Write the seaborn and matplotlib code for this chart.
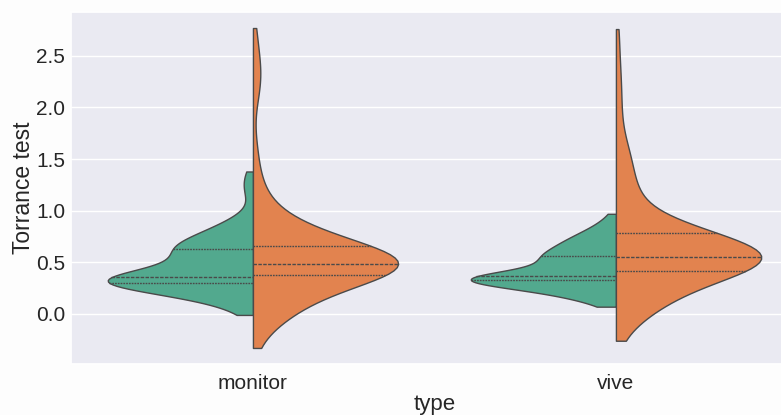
import numpy as np
import pandas as pd
import seaborn as sns
import matplotlib
matplotlib.use("Agg")
import matplotlib.pyplot as plt

types = ["monitor", "vive"]
groups = ["g1", "g2"]
colors = ["#52a98e", "#e2834f"]

monitor_g1_vals = [-0.01, 0.05, 0.10, 0.15, 0.20, 0.25, 0.28, 0.30, 0.33, 0.35,
                   0.355, 0.40, 0.45, 0.50, 0.55, 0.60, 0.62, 0.63, 0.66, 0.70,
                   0.75, 0.80, 0.85, 0.90, 0.95, 1.15, 1.22, 1.30, 1.38]
monitor_g1_cnts = [1, 1, 2, 3, 5, 6, 6, 4, 14, 7,
                   2, 4, 4, 4, 4, 4, 3, 2, 4, 4,
                   4, 3, 2, 2, 1, 1, 1, 1, 1]

monitor_g2_vals = [-0.33, -0.20, -0.10, -0.05, 0.00, 0.05, 0.10, 0.15, 0.20, 0.25,
                   0.30, 0.35, 0.375, 0.40, 0.43, 0.45, 0.47, 0.48, 0.50, 0.55,
                   0.60, 0.63, 0.66, 0.70, 0.75, 0.80, 0.85, 0.90, 0.95, 1.00,
                   1.07, 1.15, 1.20, 1.25, 1.35, 1.50, 1.65, 2.05, 2.20, 2.28,
                   2.35, 2.45, 2.58, 2.77]
monitor_g2_cnts = [1, 1, 2, 2, 3, 3, 4, 4, 4, 5,
                   4, 4, 2, 8, 9, 9, 9, 2, 8, 10,
                   9, 8, 2, 5, 4, 4, 3, 3, 2, 2,
                   1, 1, 1, 1, 1, 1, 1, 1, 1, 1,
                   1, 1, 1, 1]

vive_g1_vals = [0.07, 0.12, 0.16, 0.20, 0.24, 0.27, 0.30, 0.328, 0.33, 0.34,
                0.35, 0.364, 0.38, 0.42, 0.46, 0.50, 0.53, 0.55, 0.563, 0.60,
                0.64, 0.68, 0.72, 0.76, 0.80, 0.85, 0.90, 0.97]
vive_g1_cnts = [1, 2, 3, 4, 5, 5, 4, 2, 8, 8,
                7, 2, 4, 4, 3, 4, 4, 4, 2, 4,
                4, 4, 3, 3, 2, 2, 1, 1]

vive_g2_vals = [-0.26, -0.15, -0.08, 0.00, 0.05, 0.10, 0.15, 0.20, 0.25, 0.30,
                0.35, 0.39, 0.418, 0.44, 0.47, 0.50, 0.53, 0.54, 0.553, 0.58,
                0.62, 0.66, 0.70, 0.75, 0.785, 0.80, 0.84, 0.89, 0.95, 1.02,
                1.08, 1.15, 1.22, 1.30, 1.40, 1.50, 1.60, 1.72, 1.85, 2.00,
                2.15, 2.30, 2.50, 2.76]
vive_g2_cnts = [1, 1, 2, 2, 3, 3, 4, 4, 4, 5,
                4, 4, 2, 7, 8, 8, 7, 5, 2, 7,
                8, 7, 7, 6, 2, 5, 4, 3, 2, 2,
                2, 2, 2, 2, 2, 2, 2, 1, 1, 1,
                1, 1, 1, 1]

frames = []
for t, g, vals, cnts in [("monitor", "g1", monitor_g1_vals, monitor_g1_cnts),
                         ("monitor", "g2", monitor_g2_vals, monitor_g2_cnts),
                         ("vive", "g1", vive_g1_vals, vive_g1_cnts),
                         ("vive", "g2", vive_g2_vals, vive_g2_cnts)]:
    obs = np.repeat(np.array(vals), np.array(cnts))
    frames.append(pd.DataFrame({"type": t, "group": g, "Torrance test": obs}))
df = pd.concat(frames, ignore_index=True)

sns.set_theme(style="darkgrid")
plt.rcParams["font.family"] = ["Liberation Sans", "DejaVu Sans"]

fig, ax = plt.subplots(figsize=(7.81, 4.15), dpi=100)
fig.patch.set_facecolor("#fdfdfd")
sns.violinplot(data=df, x="type", y="Torrance test", hue="group",
               order=types, hue_order=groups, split=True, inner="quartile",
               cut=0, density_norm="width", palette=colors, saturation=1,
               linewidth=1.0, linecolor="#4a4a4a", legend=False, ax=ax)
ax.set_yticks([0.0, 0.5, 1.0, 1.5, 2.0, 2.5])
ax.tick_params(axis="x", labelsize=15, length=0, pad=7)
ax.tick_params(axis="y", labelsize=15, length=0, pad=4.5)
ax.set_xlabel("type", fontsize=16, labelpad=1)
ax.set_ylabel("Torrance test", fontsize=16.5, labelpad=1)
fig.subplots_adjust(left=0.0915, right=1.021, top=0.971, bottom=0.123)
fig.savefig("out.png", dpi=100, facecolor=fig.get_facecolor())
